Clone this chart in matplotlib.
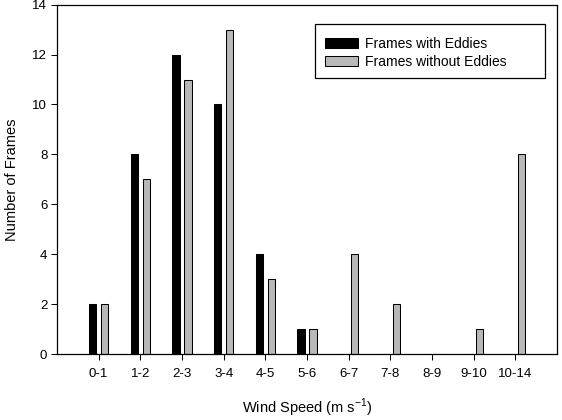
import matplotlib
matplotlib.use('Agg')
import matplotlib.pyplot as plt
from matplotlib.patches import Rectangle
import numpy as np

categories = ['0-1', '1-2', '2-3', '3-4', '4-5', '5-6', '6-7', '7-8', '8-9', '9-10', '10-14']
with_eddies = [2, 8, 12, 10, 4, 1, 0, 0, 0, 0, 0]
without_eddies = [2, 7, 11, 13, 3, 1, 4, 2, 0, 1, 8]

plt.rcParams['font.family'] = ['Liberation Sans', 'DejaVu Sans']

fig = plt.figure(figsize=(5.62, 4.2), dpi=100)
ax = fig.add_axes([0.1014, 0.157, 0.8896, 0.832])

x = np.arange(len(categories))
w = 0.18
ax.bar(x - 0.145, with_eddies, w, color='black', edgecolor='black', linewidth=0.75,
       label='Frames with Eddies')
ax.bar(x + 0.145, without_eddies, w, color='#b8b8b8', edgecolor='black', linewidth=0.75,
       label='Frames without Eddies')

ax.set_xlim(-1, 11)
ax.set_ylim(0, 14)
ax.set_xticks(x)
ax.set_xticklabels(categories)
ax.set_yticks(range(0, 15, 2))
ax.tick_params(axis='both', direction='out', length=4, width=0.75, labelsize=9.5, pad=3)
ax.tick_params(axis='x', pad=6)
for s in ax.spines.values():
    s.set_linewidth(0.9)

ax.set_xlabel('Wind Speed (m s$^{\\mathregular{-1}}$)', fontsize=10.5, labelpad=12)
ax.set_ylabel('Number of Frames', fontsize=10.5, labelpad=10)

# legend without its own frame, box drawn separately (wider than contents, like the original)
ax.legend(loc='upper left', bbox_to_anchor=(325 / 562, 1 - 37 / 420),
          bbox_transform=fig.transFigure, borderaxespad=0, borderpad=0, fontsize=10,
          frameon=False, handlelength=2.4, handleheight=0.7, handletextpad=0.5,
          labelspacing=0.3)
fig.add_artist(Rectangle((315 / 562, 1 - 78 / 420), 230 / 562, 54 / 420,
                         transform=fig.transFigure, fill=False, edgecolor='black',
                         linewidth=0.9))

fig.savefig('out.png', dpi=100)
